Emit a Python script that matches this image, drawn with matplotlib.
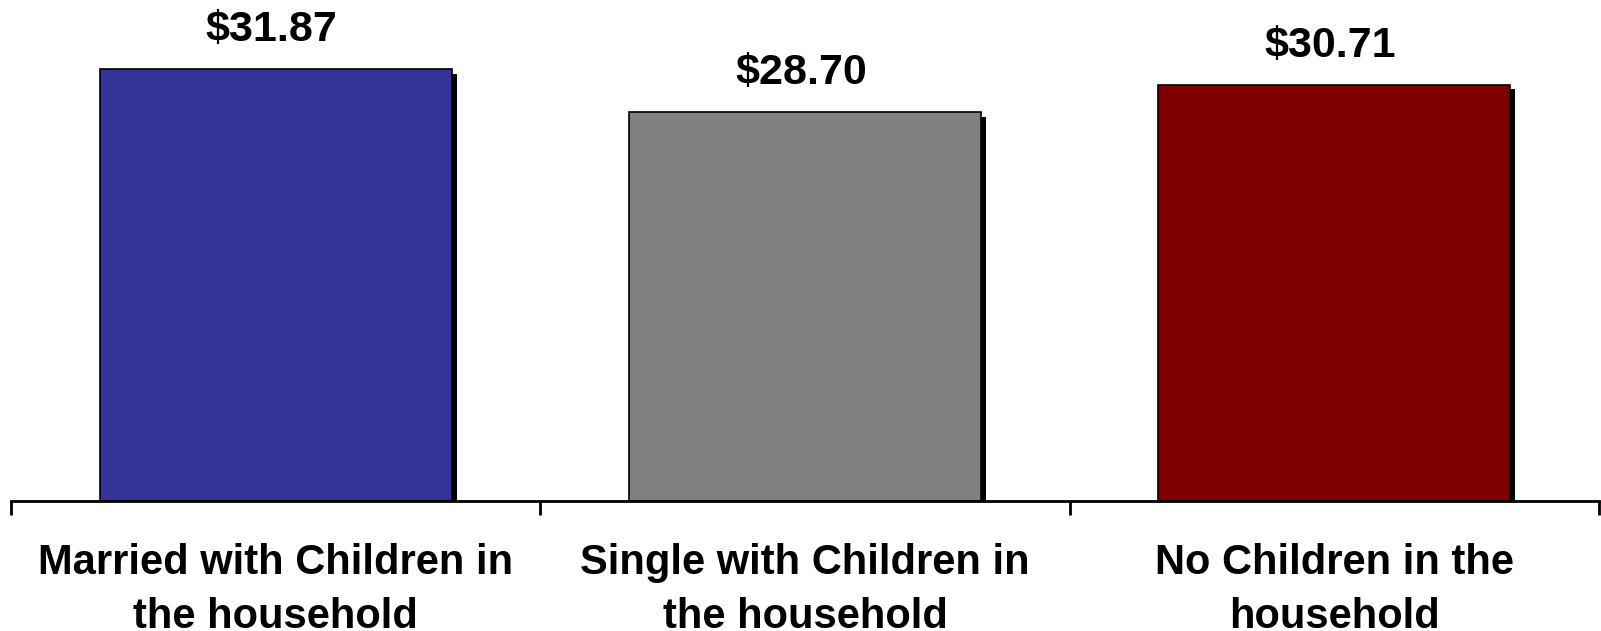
import matplotlib
matplotlib.use("Agg")
import matplotlib.pyplot as plt
import matplotlib.patheffects as pe

categories = ["Married with Children in\nthe household",
              "Single with Children in\nthe household",
              "No Children in the\nhousehold"]
values = [31.87, 28.70, 30.71]
labels = ["$31.87", "$28.70", "$30.71"]
colors = ["#333399", "#808080", "#800000"]

plt.rcParams['font.family'] = ['Liberation Sans', 'DejaVu Sans']

fig = plt.figure(figsize=(16.01, 6.31), dpi=100)
ax = fig.add_axes([11/1601, (631-501)/631, (1599-11)/1601, 501/631])

x = list(range(len(values)))
bars = ax.bar(x, values, width=0.665, color=colors, edgecolor="black", linewidth=1.2, zorder=3)
for b in bars:
    b.set_path_effects([pe.SimplePatchShadow(offset=(3.5, -3), shadow_rgbFace="black", alpha=1.0), pe.Normal()])

for xi, v, lab in zip(x, values, labels):
    ax.annotate(lab, (xi, v), xytext=(-3, 14), textcoords="offset points",
                ha="center", va="bottom", fontsize=31, fontweight="bold")

ax.set_xlim(-0.5, 2.5)
ax.set_ylim(0, 37)

for s in ["top", "right", "left"]:
    ax.spines[s].set_visible(False)
ax.spines["bottom"].set_linewidth(2)
ax.spines["bottom"].set_zorder(4)
ax.set_yticks([])

ax.set_xticks([-0.5, 0.5, 1.5, 2.5])
ax.set_xticklabels([])
ax.tick_params(axis="x", which="major", direction="out", length=10, width=2)
ax.set_xticks(x, minor=True)
ax.set_xticklabels(categories, minor=True, fontsize=30, fontweight="bold", linespacing=1.45)
ax.tick_params(axis="x", which="minor", length=0, pad=30)

fig.savefig("out.png", dpi=100)
